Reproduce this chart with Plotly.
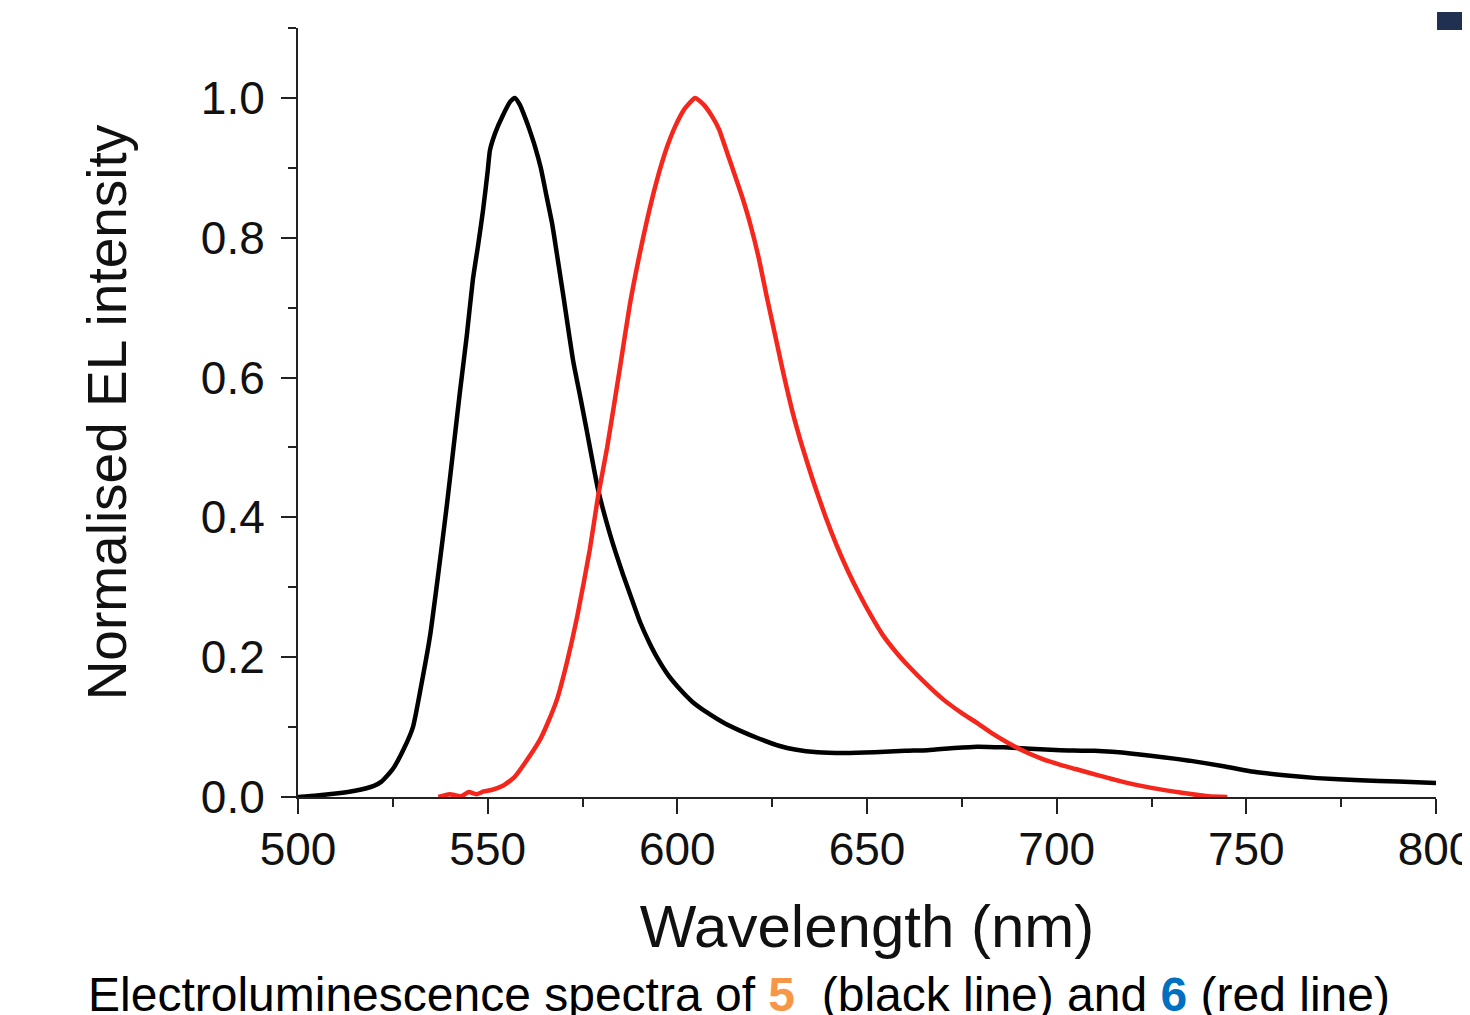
import plotly.graph_objects as go

# Black line (compound 5)
black_nm = [500, 505, 510, 515, 520, 522, 525, 528, 530.3, 532.5, 534.8, 537, 539.3, 541, 542.7,
            544.5, 546.1, 547.5, 548.8, 550, 550.6, 552, 554, 556, 557.2, 558.5, 560, 561, 562.5,
            564, 565.5, 567, 568.5, 570, 572.5, 574.5, 576.2, 579.1, 582.3, 585.7, 588, 590.2,
            592.5, 594.6, 597.5, 600.7, 604, 607.8, 612, 616.5, 621.8, 627, 631, 637, 644, 652,
            660, 666, 673, 679, 686, 693, 701, 710, 720, 728, 735, 744, 752, 760, 768.6, 780,
            790, 800]
black_val = [0.000, 0.002, 0.005, 0.009, 0.016, 0.022, 0.04, 0.07, 0.10, 0.16, 0.23, 0.32, 0.42,
             0.50, 0.58, 0.66, 0.74, 0.79, 0.84, 0.895, 0.925, 0.95, 0.975, 0.995, 1.0, 0.99, 0.97,
             0.955, 0.93, 0.90, 0.86, 0.82, 0.768, 0.715, 0.625, 0.57, 0.522, 0.44, 0.375, 0.318,
             0.283, 0.25, 0.222, 0.2, 0.175, 0.154, 0.136, 0.121, 0.107, 0.095, 0.083, 0.073,
             0.068, 0.064, 0.063, 0.064, 0.066, 0.067, 0.070, 0.072, 0.071, 0.069, 0.067, 0.066,
             0.062, 0.057, 0.052, 0.044, 0.036, 0.031, 0.027, 0.024, 0.022, 0.020]

# Red line (compound 6)
red_nm = [537, 540, 543, 545, 547, 549, 551, 554, 557, 560, 563.8, 566, 568.3, 571, 573.6, 576.9,
          579.1, 581.5, 584.9, 587.5, 590, 592, 594.5, 597.3, 599.5, 602, 604.7, 607, 609, 611,
          612.6, 614.5, 617, 619.2, 621.5, 623.6, 626, 628, 630.5, 633, 635.8, 639, 642, 645,
          648, 651, 654, 658, 661, 665, 670, 675, 679, 683, 687, 692, 696, 701, 705, 711, 718,
          725, 733, 740, 745]
red_val = [0.0, 0.004, 0.001, 0.007, 0.004, 0.008, 0.01, 0.016, 0.028, 0.05, 0.082, 0.108, 0.14,
           0.195, 0.258, 0.353, 0.43, 0.5, 0.615, 0.705, 0.775, 0.825, 0.88, 0.93, 0.96, 0.985,
           1.0, 0.99, 0.975, 0.955, 0.93, 0.90, 0.86, 0.82, 0.77, 0.715, 0.655, 0.605, 0.548, 0.50,
           0.452, 0.402, 0.36, 0.323, 0.29, 0.26, 0.233, 0.205, 0.187, 0.165, 0.14, 0.12, 0.106,
           0.091, 0.078, 0.064, 0.055, 0.046, 0.04, 0.031, 0.021, 0.013, 0.006, 0.001, 0.0]

x_ticks = [500, 550, 600, 650, 700, 750, 800]
y_ticks = [0.0, 0.2, 0.4, 0.6, 0.8, 1.0]
y_ticklabels = ["0.0", "0.2", "0.4", "0.6", "0.8", "1.0"]

FONT = "Liberation Sans, Arial, sans-serif"

fig = go.Figure()
fig.add_trace(go.Scatter(x=black_nm, y=black_val, mode="lines",
                         line=dict(color="#000000", width=4.5, shape="spline", smoothing=0.5),
                         showlegend=False))
fig.add_trace(go.Scatter(x=red_nm, y=red_val, mode="lines",
                         line=dict(color="#f5261c", width=4.5, shape="spline", smoothing=0.5),
                         showlegend=False))

axis_common = dict(showgrid=False, zeroline=False, showline=True, linecolor="#222222",
                   linewidth=2, ticks="outside", tickcolor="#222222", tickwidth=2,
                   ticklen=15, automargin=False, ticklabeloverflow="allow",
                   tickfont=dict(family=FONT, size=46, color="#111111"))

fig.update_xaxes(range=[500, 800], tickvals=x_ticks, ticktext=[str(v) for v in x_ticks],
                 ticklabelstandoff=-4,
                 title=dict(text="Wavelength (nm)", font=dict(family=FONT, size=60, color="#111111"),
                            standoff=31),
                 minor=dict(dtick=25, tick0=500, ticks="outside", ticklen=8, tickwidth=2,
                            tickcolor="#222222"),
                 **axis_common)
fig.update_yaxes(range=[0, 1.1], tickvals=y_ticks, ticktext=y_ticklabels,
                 ticklabelstandoff=7,
                 title=dict(text="Normalised EL intensity",
                            font=dict(family=FONT, size=55, color="#111111"), standoff=57),
                 minor=dict(dtick=0.1, tick0=0, ticks="outside", ticklen=8, tickwidth=2,
                            tickcolor="#222222"),
                 **axis_common)

fig.add_annotation(xref="paper", yref="paper", x=-0.186, y=-0.257, xanchor="left",
                   yanchor="middle", showarrow=False,
                   text=("Electroluminescence spectra of <b><span style='color:#f79646'>5</span></b>"
                         "  (black line) and <b><span style='color:#0070c0'>6</span></b> (red line)"),
                   font=dict(family=FONT, size=48, color="#000000"))

fig.add_shape(type="rect", xref="paper", yref="paper", x0=1.0009, x1=1.04, y0=0.9974, y1=1.0208,
              fillcolor="#1f3050", line=dict(width=0))

fig.update_layout(width=1470, height=1015, paper_bgcolor="white", plot_bgcolor="white",
                  margin=dict(l=290, r=42, t=20, b=226), showlegend=False)

fig.write_html("out.html")
